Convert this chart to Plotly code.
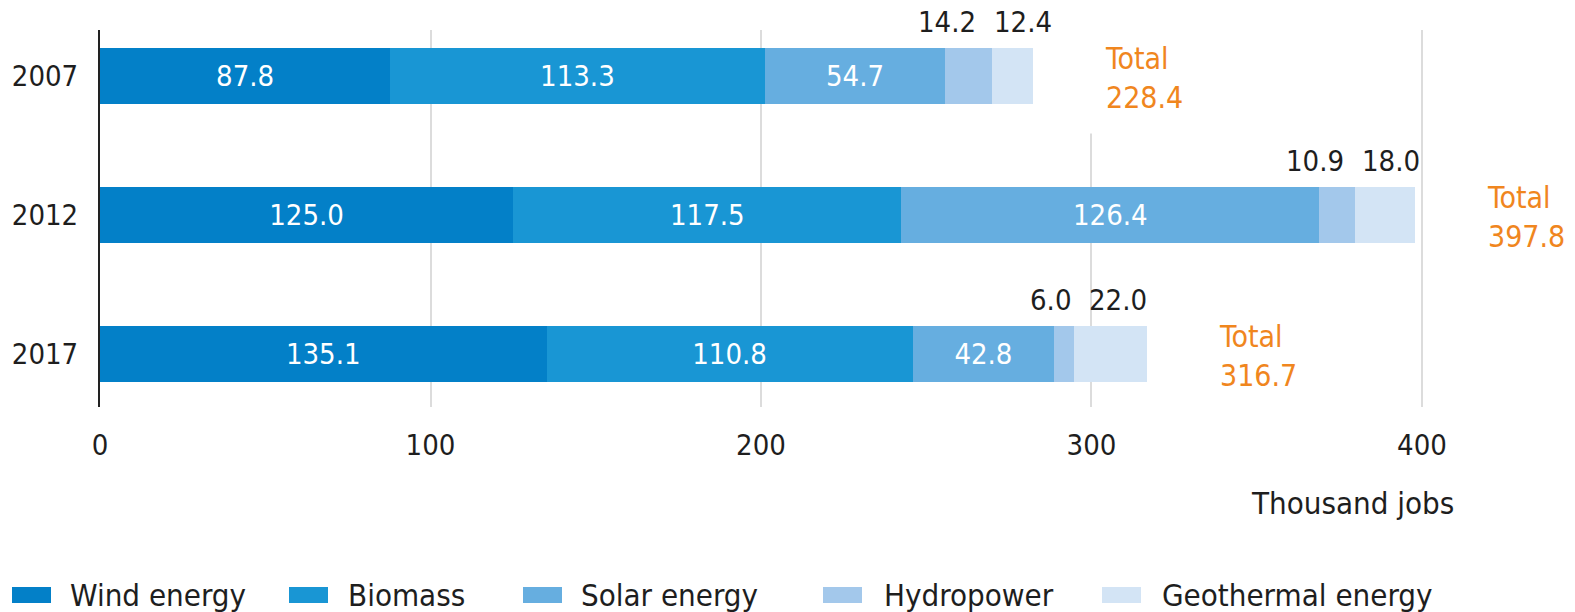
import plotly.graph_objects as go

# ---------------- data ----------------
years = ["2007", "2012", "2017"]
series_names = ["Wind energy", "Biomass", "Solar energy", "Hydropower", "Geothermal energy"]
wind = [87.8, 125.0, 135.1]
biomass = [113.3, 117.5, 110.8]
solar = [54.7, 126.4, 42.8]
hydro = [14.2, 10.9, 6.0]
geothermal = [12.4, 18.0, 22.0]
total_labels = [228.4, 397.8, 316.7]   # totals as printed in the source
x_ticks = [0, 100, 200, 300, 400]
axis_title = "Thousand jobs"

# ---------------- style ----------------
colors = ["#0380c8", "#1996d4", "#66aee0", "#a3c8eb", "#d3e4f5"]
orange = "#f0861e"
dark = "#1e1e1e"
FONT = "DejaVu Sans Condensed, Liberation Sans Narrow, Noto Sans, sans-serif"
FS_NUM = 29
FS_TXT = 31

W, H = 1575, 612
ML, MR, MT, MB = 100, 0, 30, 205
PW, PH = W - ML - MR, H - MT - MB


def px_x(px):
    return (px - ML) / PW


def px_y(py):
    return (H - MB - py) / PH


# legend layout (pixel positions of swatch left edges and label starts)
legend_swatch_x = [12, 289, 523, 823, 1102]
legend_text_x = [68, 346, 579, 882, 1160]
legend_swatch_w, legend_top, legend_bottom = 39, 587, 603

series = [wind, biomass, solar, hydro, geothermal]

fig = go.Figure()
for i, (name, vals) in enumerate(zip(series_names, series)):
    inside = i < 3
    fig.add_trace(go.Bar(
        y=years, x=vals, orientation="h", name=name,
        marker=dict(color=colors[i], line=dict(width=0)),
        text=[f"{v:.1f}" for v in vals] if inside else None,
        textposition="inside" if inside else "none",
        insidetextanchor="middle",
        textfont=dict(color="white", size=FS_NUM, family=FONT),
        showlegend=False, hoverinfo="skip",
    ))

# labels above small segments + totals
for j, yr in enumerate(years):
    solar_end = wind[j] + biomass[j] + solar[j]
    hydro_mid = solar_end + hydro[j] / 2
    geo_end = solar_end + hydro[j] + geothermal[j]
    fig.add_annotation(x=hydro_mid, y=j, xref="x", yref="y",
                       text=f"{hydro[j]:.1f}", showarrow=False,
                       xanchor="right", yanchor="middle", xshift=9, yshift=54,
                       font=dict(size=FS_NUM, color=dark, family=FONT))
    fig.add_annotation(x=hydro_mid, y=j, xref="x", yref="y",
                       text=f"{geothermal[j]:.1f}", showarrow=False,
                       xanchor="left", yanchor="middle", xshift=23, yshift=54,
                       font=dict(size=FS_NUM, color=dark, family=FONT))
    fig.add_annotation(x=geo_end, y=j, xref="x", yref="y",
                       text=f"Total<br>{total_labels[j]:.1f}", showarrow=False,
                       xanchor="left", yanchor="middle", align="left",
                       xshift=53, yshift=-2, bgcolor="white", borderpad=18,
                       font=dict(size=30, color=orange, family=FONT))

# axis title
fig.add_annotation(x=px_x(1456), y=px_y(503), xref="paper", yref="paper",
                   text=axis_title, showarrow=False,
                   xanchor="right", yanchor="middle",
                   font=dict(size=FS_TXT, color=dark, family=FONT))

# legend (swatches + labels)
for i, name in enumerate(series_names):
    fig.add_shape(type="rect", xref="paper", yref="paper",
                  x0=px_x(legend_swatch_x[i]), x1=px_x(legend_swatch_x[i] + legend_swatch_w),
                  y0=px_y(legend_bottom), y1=px_y(legend_top),
                  fillcolor=colors[i], line=dict(width=0), layer="above")
    fig.add_annotation(x=px_x(legend_text_x[i]), y=px_y((legend_top + legend_bottom) / 2),
                       xref="paper", yref="paper", text=name, showarrow=False,
                       xanchor="left", yanchor="middle",
                       font=dict(size=FS_TXT, color=dark, family=FONT))

fig.update_layout(
    width=W, height=H,
    margin=dict(l=ML, r=MR, t=MT, b=MB),
    barmode="stack", bargap=0.6,
    plot_bgcolor="white", paper_bgcolor="white",
    font=dict(family=FONT, size=FS_NUM, color=dark),
    showlegend=False,
)
fig.update_xaxes(range=[0, 446.3], tickvals=x_ticks, showgrid=True,
                 gridcolor="#dcdcdc", gridwidth=2, zeroline=False,
                 showline=False, ticks="", ticklabelstandoff=18,
                 tickfont=dict(size=FS_NUM, color=dark, family=FONT))
fig.update_yaxes(type="category", categoryorder="array", categoryarray=years,
                 range=[2.38, -0.33], autorange=False,
                 showline=True, linecolor="#222", linewidth=2,
                 showgrid=False, zeroline=False, ticks="",
                 ticklabelstandoff=14,
                 tickfont=dict(size=FS_NUM, color=dark, family=FONT))

fig.write_html("out.html")
